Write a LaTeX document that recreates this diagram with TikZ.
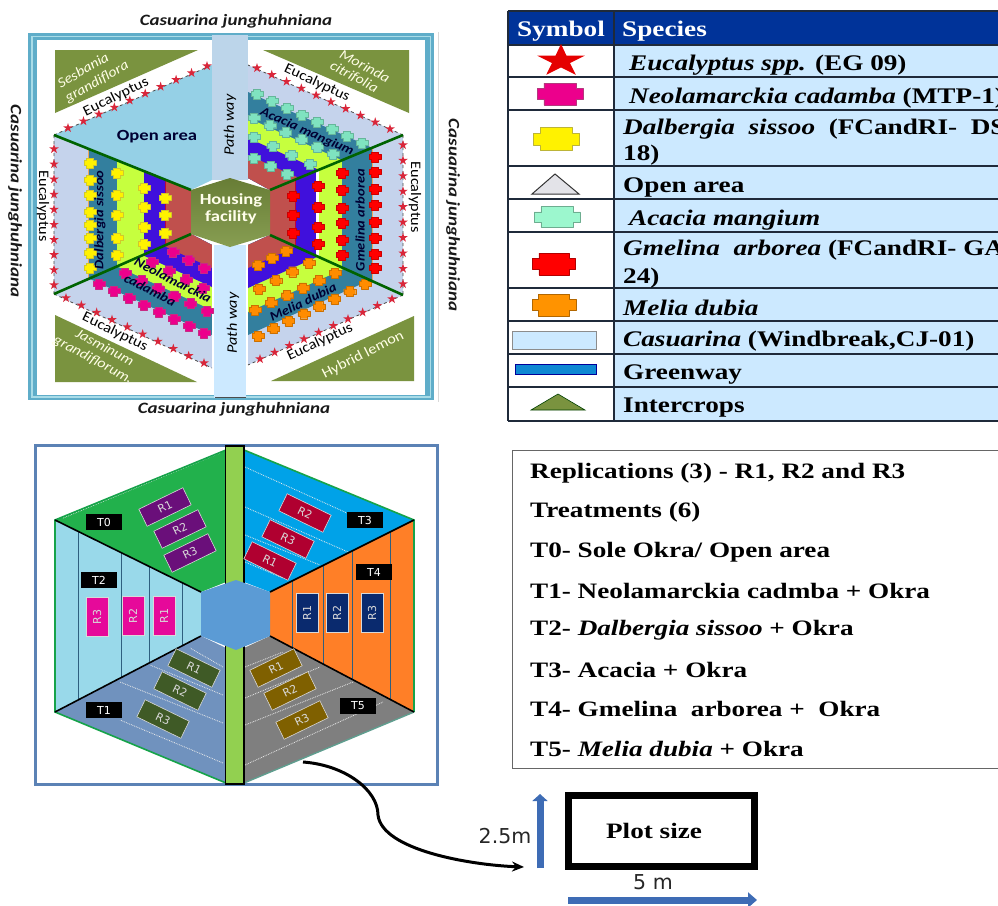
\documentclass[tikz,border=0pt]{standalone}
\usepackage{fontspec}
\usetikzlibrary{calc,arrows.meta}
\newfontfamily\tabf[FakeStretch=1.22]{Liberation Serif}
\newfontfamily\boxf[FakeStretch=1.235]{Liberation Serif}
\newfontfamily\mapf[FakeStretch=1.12]{Carlito}
\newfontfamily\mapw[FakeStretch=1.2]{Carlito}
\newfontfamily\dejaf{DejaVu Sans}
\definecolor{lav}{HTML}{C5D3EC}
\definecolor{teal1}{HTML}{337F9E}
\definecolor{lime1}{HTML}{C6FF3E}
\definecolor{viol}{HTML}{4010DC}
\definecolor{brick}{HTML}{C0504D}
\definecolor{olive1}{HTML}{7A933F}
\definecolor{mint1}{HTML}{7FE3C0}
\definecolor{mint2}{HTML}{9CF7CE}
\definecolor{cellb}{HTML}{CCE9FF}
\definecolor{navyh}{HTML}{003399}
\definecolor{tline}{HTML}{1F2A3A}
\definecolor{arrowb}{HTML}{3E6CB5}
\definecolor{divl}{HTML}{2E5F7F}
\definecolor{openc}{HTML}{95D0E6}
\definecolor{framec}{HTML}{5FADC9}
\definecolor{framel}{HTML}{A9DCE8}
\definecolor{pathc}{HTML}{BCD5EA}
\definecolor{stard}{HTML}{D9263A}
\definecolor{cT0}{HTML}{22B14C}
\definecolor{cT3}{HTML}{00A2E8}
\definecolor{cT2}{HTML}{99D9EA}
\definecolor{cT4}{HTML}{FF7F27}
\definecolor{cT1}{HTML}{7092BE}
\definecolor{cT5}{HTML}{7F7F7F}
\definecolor{hubc}{HTML}{5B9BD5}
\definecolor{planf}{HTML}{5B82B5}
\definecolor{stripc}{HTML}{92D050}
\definecolor{pT0}{HTML}{6A0F7A}
\definecolor{pT3}{HTML}{B00030}
\definecolor{pT1}{HTML}{3F5A26}
\definecolor{pT5}{HTML}{7F6000}
\definecolor{pT2}{HTML}{E6099A}
\definecolor{pT4}{HTML}{0A2A6E}
\definecolor{edgeg}{HTML}{16A34A}
\definecolor{edget}{HTML}{5F9E8F}
\tikzset{
  x=1pt,y=-1pt,
  maplbl/.style={inner sep=0,font=\mapf\fontsize{14.5}{15}\selectfont,text=black},
  speciesb/.style={inner sep=0,font=\mapf\bfseries\itshape\fontsize{13}{14}\selectfont,text=black!80!blue},
  cropl/.style={inner sep=0,font=\mapf\itshape\fontsize{14}{15}\selectfont,text=white!90!yellow},
  casu/.style={inner sep=0,font=\mapw\bfseries\itshape\fontsize{15.8}{16}\selectfont,text=black!90},
  tab/.style={anchor=west,inner sep=0,font=\tabf\bfseries\fontsize{22.3}{24}\selectfont},
  boxl/.style={anchor=west,inner sep=0,font=\boxf\bfseries\fontsize{22}{24}\selectfont},
  plotr/.style={draw=white!85!black,line width=.6pt,minimum width=49pt,minimum height=19pt,inner sep=0,text=white!85!black,font=\dejaf\fontsize{11}{11}\selectfont},
  plotv/.style={draw=white!85!black,line width=.4pt,minimum width=22pt,minimum height=39pt,inner sep=0,text=white!85!black,font=\dejaf\fontsize{11}{11}\selectfont},
  tbadge/.style={fill=black,text=white,minimum width=36pt,minimum height=16.5pt,inner sep=0,font=\dejaf\fontsize{11}{11}\selectfont},
  wdash/.style={draw=white!85!gray,line width=.8pt,densely dotted},
  spoke/.style={draw=black,line width=1.6pt},
  dgreen/.style={draw=black!35!green!60!black,line width=2.6pt},
}
\newcommand{\starat}[4]{\fill[#4,shift={(#1)},xscale=#2,yscale=#3] (0,-1)--(.22,-.31)--(.95,-.31)--(.36,.12)--(.59,.81)--(0,.38)--(-.59,.81)--(-.36,.12)--(-.95,-.31)--(-.22,-.31)--cycle;}
\newcommand{\treeat}[4]{\filldraw[fill=#4,draw=#4!70!black,line width=.5pt,line join=round,shift={(#1)},xscale=#2,yscale=#3] (-.7,-1)--(.7,-1)--(.7,-.5)--(1,-.5)--(1,.5)--(.7,.5)--(.7,1)--(-.7,1)--(-.7,.5)--(-1,.5)--(-1,-.5)--(-.7,-.5)--cycle;}
\newcommand{\dotat}[2]{\filldraw[fill=#2,draw=#2!80!black,line width=.3pt,line join=round,shift={(#1)},xscale=6,yscale=5] (-.6,-1)--(.6,-1)--(.6,-.5)--(1,-.5)--(1,.5)--(.6,.5)--(.6,1)--(-.6,1)--(-.6,.5)--(-1,.5)--(-1,-.5)--(-.6,-.5)--cycle;}
\newcommand{\dotrow}[4]{\foreach \i in {1,...,#3}{\pgfmathsetmacro\tt{(\i-1)/(#3-1)}\dotat{$(#1)!\tt!(#2)$}{#4}}}
\newcommand{\dotcol}[3]{\foreach \yy in {#2}{\dotat{#1,\yy}{#3}}}
\newcommand{\starrow}[3]{\foreach \i in {1,...,#3}{\pgfmathsetmacro\tt{(\i-1)/(#3-1)}\starat{$(#1)!\tt!(#2)$}{5}{5}{stard}}}
\begin{document}
\begin{tikzpicture}
\useasboundingbox (0,0) rectangle (998,905);
\fill[white] (0,0) rectangle (998,905);
% ---------- site map
\coordinate (hTL) at (54,135);\coordinate (hTR) at (403,135);
\coordinate (hBL) at (54,294);\coordinate (hBR) at (403,295);
\coordinate (iTL) at (191,190);\coordinate (iTR) at (270,190);
\coordinate (iBL) at (191,234);\coordinate (iBR) at (270,235);
\draw[white!85!black,line width=1pt] (438,32)--(438,402);
\fill[framec] (28,33) rectangle (434,400);
\draw[framel,line width=1.2pt] (32,36.5) rectangle (430.5,397);
\fill[white] (37,40) rectangle (425,395);
\fill[olive1] (55,50)--(198,50)--(55,113)--cycle;
\fill[olive1] (263,50)--(409,50)--(409,113)--cycle;
\fill[olive1] (55,315)--(55,382)--(197,382)--cycle;
\fill[olive1] (414,316)--(414,381)--(271,381)--cycle;
% open area
\fill[openc] (hTL)--(212,65)--(212,180)--(iTL)--cycle;
% left sector
\begin{scope}
\clip (hTL)--(iTL)--(iBL)--(hBL)--cycle;
\fill[lav] (54,100) rectangle (88,320);
\fill[teal1] (88,100) rectangle (117,320);
\fill[lime1] (117,100) rectangle (144,320);
\fill[viol] (144,100) rectangle (165,320);
\fill[brick] (165,100) rectangle (191,320);
\draw[orange!60!brown!70!white,line width=1pt] (88,100)--(88,320);
\draw[purple,line width=.8pt] (165,100)--(165,320);
\end{scope}
% right sector
\begin{scope}
\clip (hTR)--(iTR)--(iBR)--(hBR)--cycle;
\fill[brick] (270,100) rectangle (295,320);
\fill[viol] (295,100) rectangle (316,320);
\fill[white] (316,100) rectangle (319,320);
\fill[lime1] (319,100) rectangle (342,320);
\fill[teal1] (342,100) rectangle (372,320);
\fill[lav] (372,100) rectangle (403,320);
\draw[orange!60!brown!70!white,line width=1pt] (372,100)--(372,320);
\draw[purple,line width=.8pt] (295,100)--(295,320);
\end{scope}
% top-right sector
\begin{scope}
\clip (248,65)--(hTR)--(iTR)--(248,178)--cycle;
\fill[lav] (248,65)--+(172,77.4)--(420,400)--(248,400)--cycle;
\fill[teal1] (248,92)--+(172,77.4)--(420,400)--(248,400)--cycle;
\fill[lime1] (248,118)--+(172,77.4)--(420,400)--(248,400)--cycle;
\fill[viol] (248,138)--+(172,77.4)--(420,400)--(248,400)--cycle;
\fill[brick] (248,155)--+(172,77.4)--(420,400)--(248,400)--cycle;
\end{scope}
% bottom-right sector
\begin{scope}
\clip (248,365)--(hBR)--(iBR)--(248,245)--cycle;
\fill[lav] (248,365)--+(172,-77.4)--(420,100)--(248,100)--cycle;
\fill[teal1] (248,335)--+(172,-77.4)--(420,100)--(248,100)--cycle;
\fill[lime1] (248,312)--+(172,-77.4)--(420,100)--(248,100)--cycle;
\fill[viol] (248,288)--+(172,-77.4)--(420,100)--(248,100)--cycle;
\fill[brick] (248,268)--+(172,-77.4)--(420,100)--(248,100)--cycle;
\end{scope}
% bottom-left sector
\begin{scope}
\clip (212,368)--(hBL)--(iBL)--(212,245)--cycle;
\fill[lav] (212,368)--+(-172,-79)--(40,100)--(212,100)--cycle;
\fill[teal1] (212,335)--+(-172,-79)--(40,100)--(212,100)--cycle;
\fill[lime1] (212,310)--+(-172,-79)--(40,100)--(212,100)--cycle;
\fill[viol] (212,287)--+(-172,-79)--(40,100)--(212,100)--cycle;
\fill[brick] (212,268)--+(-172,-79)--(40,100)--(212,100)--cycle;
\end{scope}
% tree dots
\dotcol{90}{163,180,195,212,225,238,253,268}{yellow}
\dotcol{117}{173,195,215,238,255}{yellow}
\dotcol{144}{188,207,227,244}{yellow}
\dotcol{165}{198,215,233}{yellow}
\dotcol{293}{196,215,233}{red}
\dotcol{318}{186,207,227,244}{red}
\dotcol{342}{173,190,208,223,240,255}{red}
\dotcol{375}{157,172,189,205,222,238,254,268}{red}
\dotrow{257,94}{362,143}{8}{mint1}
\dotrow{254,118}{333,154}{6}{mint1}
\dotrow{254,137}{310,164}{4}{mint1}
\dotrow{254,158}{287,174}{3}{mint1}
\dotrow{204,333}{99,284}{8}{magenta}
\dotrow{207,311}{125,273}{6}{magenta}
\dotrow{203,288}{152,262}{4}{magenta}
\dotrow{204,268}{173,252}{3}{magenta}
\dotrow{258,336}{365,284}{8}{orange!90!yellow}
\dotrow{255,310}{335,273}{6}{orange!90!yellow}
\dotrow{259,289}{309,263}{4}{orange!90!yellow}
\dotrow{258,265}{286,251}{3}{orange!90!yellow}
% eucalyptus star lines
\coordinate (eTL) at (212,65);\coordinate (eTR) at (248,65);
\coordinate (eBL) at (212,368);\coordinate (eBR) at (248,365);
\draw[black!70,dashed,line width=.8pt] (hTL)--(eTL) (hTR)--(eTR) (hBL)--(eBL) (hBR)--(eBR) (hTL)--(hBL) (hTR)--(hBR);
\starrow{68,128}{207,66}{10}
\starrow{257,68}{390,129}{10}
\starrow{66,298}{204,363}{10}
\starrow{260,359}{392,299}{10}
\starrow{54,149}{54,285}{10}
\starrow{403,145}{403,284}{10}
% green dividers
\draw[dgreen] (hTL)--(iTL) (hBL)--(iBL) (hTR)--(iTR) (hBR)--(iBR);
% path ways and housing
\fill[pathc] (212,35) rectangle (248,180);
\fill[cellb] (214,245) rectangle (246,398);
\draw[black!70,line width=.8pt] (215,397.5)--(246,397.5);
\shade[top color=olive1!85!black,bottom color=olive1!90!white] (iTL)--(230,178)--(iTR)--(iBR)--(230,247)--(iBL)--cycle;
% map text
\node[casu] (c1) at (236,21) {Casuarina junghuhniana};
\node[casu] (c2) at (234,409) {Casuarina junghuhniana};
\node[casu,rotate=-90] (c3) at (15,201) {Casuarina junghuhniana};
\node[casu,rotate=-90] (c4) at (453,215) {Casuarina junghuhniana};
\node[inner sep=0,font=\mapw\bfseries\fontsize{15.5}{16}\selectfont,text=black!80!blue] (oa) at (157,137) {Open area};
\node[maplbl,rotate=90] (pw1) at (230,125) {\itshape Path way};
\node[maplbl,rotate=90] (pw2) at (233,323) {\itshape Path way};
\node[inner sep=0,align=center,text=white!92!yellow,font=\mapw\bfseries\fontsize{15.5}{17}\selectfont] (hf) at (231,209) {Housing\\facility};
\node[maplbl,rotate=26] (e1) at (116,97) {Eucalyptus};
\node[maplbl,rotate=-25] (e2) at (317,83) {Eucalyptus};
\node[maplbl,rotate=-90] (e3) at (43,206) {Eucalyptus};
\node[maplbl,rotate=-90] (e4) at (415,197) {Eucalyptus};
\node[maplbl,rotate=-26] (e5) at (115,332) {Eucalyptus};
\node[maplbl,rotate=25] (e6) at (320,342) {Eucalyptus};
\node[cropl,rotate=30] (s1) at (83,70) {Sesbania};
\node[cropl,rotate=30] (s2) at (97,82) {grandiflora};
\node[cropl,rotate=-28] (m1) at (365,66) {Morinda};
\node[cropl,rotate=-28] (m2) at (354,77) {citrifolia};
\node[cropl,rotate=-28] (j1) at (105,347) {Jasminum};
\node[cropl,rotate=-28] (j2) at (93,360) {grandiflorum.};
\node[inner sep=0,font=\mapf\fontsize{14.5}{15}\selectfont,text=white!90!yellow,rotate=27] (hl) at (363,355) {Hybrid lemon};
\node[speciesb,rotate=-24] (sa) at (307,132) {Acacia mangium};
\node[speciesb,rotate=90] (sd) at (100,220) {Dalbergia sissoo};
\node[speciesb,rotate=90] (sg) at (360,220) {Gmelina arborea};
\node[speciesb,rotate=-27] (sn1) at (173,280) {Neolamarckia};
\node[speciesb,rotate=-27] (sn2) at (150,290) {cadamba};
\node[speciesb,rotate=26] (sm) at (303,302) {Melia dubia};
% ---------- legend table
\fill[cellb] (614,45) rectangle (998,421);
\fill[navyh] (508,11) rectangle (998,45);
\draw[tline,line width=1.3pt] (508,11)--(998,11) (508,11)--(508,421) (508,421)--(998,421);
\foreach \yy in {45,77,110,166,199,232,288,321,354,387}{\draw[tline,line width=1.2pt] (508,\yy)--(998,\yy);}
\draw[tline,line width=2pt] (614,11)--(614,421);
\node[tab,anchor=center,text=white] (hs) at (561,31) {Symbol};
\node[tab,text=white] (hp) at (622,31) {Species};
\node[tab] (r1) at (629,65) {\textit{Eucalyptus spp.} (EG 09)};
\node[tab] (r2) at (629,98) {\textit{Neolamarckia cadamba} (MTP-1)};
\node[tab] (r3) at (623,129) {\textit{Dalbergia\ \ sissoo}\ \ (FCandRI-\ \ DS};
\node[tab] (r3b) at (623,155) {18)};
\node[tab] (r4) at (623,187) {Open area};
\node[tab] (r5) at (629,220) {\textit{Acacia mangium}};
\node[tab] (r6) at (623,250) {\textit{Gmelina\ \ arborea}\ (FCandRI-\ GA};
\node[tab] (r6b) at (623,278) {24)};
\node[tab] (r7) at (623,308) {\textit{Melia dubia}};
\node[tab] (r8) at (623,341) {\textit{Casuarina} (Windbreak,CJ-01)};
\node[tab] (r9) at (623,375) {Greenway};
\node[tab] (r10) at (623,408) {Intercrops};
\starat{561,61}{25}{17}{red!90!black}
\treeat{560,94}{23}{11}{magenta}
\treeat{556.5,139}{23}{11.5}{yellow}
\filldraw[fill=blue!8!gray!20!white,draw=black!80,line width=1pt] (532,194)--(579,194)--(555,174)--cycle;
\treeat{557,217}{23}{10.5}{mint2}
\treeat{554,264}{21.5}{11}{red}
\treeat{554,305}{22}{11}{orange!85!yellow}
\filldraw[fill=cellb,draw=black!45,line width=.8pt] (512,331) rectangle (596,349);
\filldraw[fill=cyan!70!blue,draw=blue!60!black,line width=.8pt] (515,364) rectangle (596,374);
\filldraw[fill=olive1,draw=black!50!green!50!black,line width=.6pt] (531,410)--(585,410)--(558,394)--cycle;
% ---------- treatment box
\draw[black!60,line width=.9pt] (998,450)--(512,450)--(512,768)--(998,768);
\node[boxl] (b1) at (530,473) {Replications (3) - R1, R2 and R3};
\node[boxl] (b2) at (530,512) {Treatments (6)};
\node[boxl] (b3) at (530,552) {T0- Sole Okra/ Open area};
\node[boxl] (b4) at (530,591) {T1- Neolamarckia cadmba + Okra};
\node[boxl] (b5) at (530,630) {T2- \textit{Dalbergia sissoo} + Okra};
\node[boxl] (b6) at (530,670) {T3- Acacia + Okra};
\node[boxl] (b7) at (530,709) {T4- Gmelina\ \ arborea +\ \ Okra};
\node[boxl] (b8) at (530,749) {T5- \textit{Melia dubia} + Okra};
% ---------- layout plan
\fill[white] (35,445) rectangle (437,784);
\fill[cT0] (55,520)--(226,450)--(226,582)--(201,592)--cycle;
\fill[cT3] (244,450)--(414,520)--(270,592)--(244,582)--cycle;
\fill[cT2] (55,520)--(201,592)--(201,636)--(55,712)--cycle;
\fill[cT4] (414,520)--(270,592)--(270,636)--(414,712)--cycle;
\fill[cT1] (55,712)--(201,636)--(226,648)--(226,783)--cycle;
\fill[cT5] (414,712)--(270,636)--(244,648)--(244,783)--cycle;
\foreach \xa/\ya/\yb in {78/531/700,121/552.5/678,149/566/663,182/583/646,292/581/648,323/565.5/664,352/551/679,390/532/699}{\draw[divl,line width=.9pt] (\xa,\ya)--(\xa,\yb);}
\draw[wdash] (63,518)--(220,453);
\draw[wdash] (245,467)--(347,513) (245,507)--(348,552) (245,535)--(320,565) (245,562)--(283,578);
\draw[wdash] (223,667)--(190,648) (223,695)--(150,665) (223,723)--(120,682) (223,763)--(120,720);
\draw[wdash] (245,667)--(283,652) (245,698)--(320,667) (245,725)--(353,682) (245,765)--(383,702);
\draw[edgeg,line width=1.6pt] (226,450)--(55,520)--(55,712)--(226,783) (244,450)--(414,520)--(414,712);
\draw[edget,line width=1.4pt] (414,712)--(244,783);
\draw[spoke] (55,520)--(201,592) (55,712)--(201,636) (414,520)--(270,592) (414,712)--(270,636);
\draw[planf,line width=3pt] (35,445) rectangle (437,784);
\filldraw[fill=stripc,draw=black,line width=1.6pt] (225.5,446) rectangle (244,784);
\fill[hubc] (201,592)--(236,580)--(270,592)--(270,636)--(236,650)--(201,636)--cycle;
\foreach \nm/\pp/\rr in {{R1}/{165,507}/a,{R2}/{180,529}/b,{R3}/{190,553}/c}{\node[plotr,fill=pT0,rotate=26] (t0\rr) at (\pp) {\nm};}
\foreach \nm/\pp/\rr in {{R2}/{305,513}/a,{R3}/{288,539}/b,{R1}/{270,561}/c}{\node[plotr,fill=pT3,rotate=-26] (t3\rr) at (\pp) {\nm};}
\foreach \nm/\pp/\rr in {{R1}/{194,668}/a,{R2}/{180,691}/b,{R3}/{163,719}/c}{\node[plotr,fill=pT1,rotate=-26] (t1\rr) at (\pp) {\nm};}
\foreach \nm/\pp/\rr in {{R1}/{276,668}/a,{R2}/{290,691}/b,{R3}/{302,720}/c}{\node[plotr,fill=pT5,rotate=26] (t5\rr) at (\pp) {\nm};}
\foreach \nm/\pp/\rr in {{R3}/{97,617}/a,{R2}/{133,616}/b,{R1}/{164,616}/c}{\node[plotv,fill=pT2] (t2\rr) at (\pp) {\rotatebox{90}{\nm}};}
\foreach \nm/\pp/\rr in {{R1}/{307,613}/a,{R2}/{337,613}/b,{R3}/{372,613}/c}{\node[plotv,fill=pT4] (t4\rr) at (\pp) {\rotatebox{90}{\nm}};}
\node[tbadge] (T0) at (104,522) {T0};
\node[tbadge] (T3) at (365,520) {T3};
\node[tbadge] (T2) at (99,580) {T2};
\node[tbadge] (T4) at (374,572) {T4};
\node[tbadge] (T1) at (104,710) {T1};
\node[tbadge] (T5) at (358,706) {T5};
% ---------- plot size
\coordinate (cs) at (303,762);
\coordinate (ce) at (524,867);
\draw[black,line width=3pt,-{Stealth[length=12pt,width=10pt]}] (cs) .. controls (345,765) and (378,790) .. (378,815) .. controls (382,850) and (470,865) .. (ce);
\node[draw=black,line width=6.5pt,minimum width=186pt,minimum height=71pt,inner sep=0,outer sep=0] (plot) at (661.5,831) {};
\node[inner sep=0,font=\boxf\bfseries\fontsize{22}{24}\selectfont] (pl) at (654,831) {Plot size};
\coordinate (u1) at (540,868);\coordinate (u2) at (540,794);
\coordinate (v1) at (568,900);\coordinate (v2) at (757,900);
\draw[arrowb,line width=7pt,-{Stealth[inset=0pt,length=7pt,width=15pt]}] (u1)--(u2);
\draw[arrowb,line width=7pt,-{Stealth[inset=0pt,length=9pt,width=15pt]}] (v1)--(v2);
\node[inner sep=0,font=\dejaf\fontsize{20.5}{21}\selectfont,text=black!85] (d1) at (505,836) {2.5m};
\node[inner sep=0,font=\dejaf\fontsize{20.5}{21}\selectfont,text=black!85] (d2) at (653,882) {5 m};
\end{tikzpicture}
\end{document}
